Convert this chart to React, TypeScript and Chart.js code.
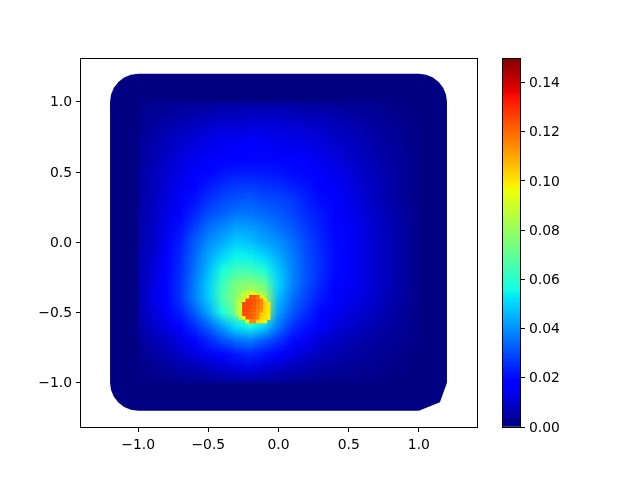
import React, { useEffect, useRef } from "react";
import { Chart, registerables } from "chart.js";

Chart.register(...registerables);

const FONT = "'DejaVu Sans'";
const xLimits = [-1.407, 1.414];
const yLimits = [-1.316, 1.312];
const xTicks = [-1, -0.5, 0, 0.5, 1];
const yTicks = [-1, -0.5, 0, 0.5, 1];
const colorTicks = [0, 0.02, 0.04, 0.06, 0.08, 0.1, 0.12, 0.14];
const colorMax = 0.15;
const rimValue = 0.3;

// Outline of the meshed region, data coordinates
const outlineX = [-1.2, -1.193, -1.173, -1.141, -1.1, -1.052, -1.0, 1.0, 1.052, 1.1, 1.141, 1.173, 1.193, 1.2, 1.2, 1.15, 1.0, -1.0, -1.052, -1.1, -1.141, -1.173, -1.193, -1.2];
const outlineY = [1.0, 1.052, 1.1, 1.141, 1.173, 1.193, 1.2, 1.2, 1.193, 1.173, 1.141, 1.1, 1.052, 1.0, -1.0, -1.14, -1.2, -1.2, -1.193, -1.173, -1.141, -1.1, -1.052, -1.0];

// Field values x 0.001; columns x = -1.0..1.0, rows y = 1.0..-1.0
const gridX = [-1, -0.9, -0.8, -0.7, -0.6, -0.5, -0.4, -0.3, -0.2, -0.1, 0, 0.1, 0.2, 0.3, 0.4, 0.5, 0.6, 0.7, 0.8, 0.9, 1];
const gridY = [1, 0.9, 0.8, 0.7, 0.6, 0.5, 0.4, 0.3, 0.2, 0.1, 0, -0.1, -0.2, -0.3, -0.4, -0.5, -0.6, -0.7, -0.8, -0.9, -1];
const gridValues = [
  [1, 2, 2, 3, 3, 3, 4, 4, 4, 4, 4, 4, 3, 3, 3, 2, 2, 2, 1, 1, 0],
  [2, 3, 4, 5, 6, 7, 8, 8, 9, 9, 9, 8, 7, 7, 6, 5, 4, 3, 2, 1, 1],
  [2, 4, 6, 8, 9, 11, 12, 12, 13, 13, 12, 12, 11, 10, 8, 7, 6, 4, 3, 2, 1],
  [3, 5, 8, 10, 12, 14, 15, 16, 17, 16, 15, 14, 13, 12, 10, 9, 7, 5, 4, 2, 1],
  [3, 6, 9, 12, 14, 16, 17, 18, 19, 19, 18, 17, 16, 14, 12, 10, 8, 6, 4, 3, 1],
  [4, 7, 10, 13, 16, 19, 21, 22, 22, 22, 21, 20, 18, 16, 14, 12, 9, 7, 5, 3, 1],
  [4, 7, 11, 15, 18, 22, 25, 27, 27, 26, 25, 23, 21, 18, 16, 13, 10, 8, 5, 3, 1],
  [4, 8, 12, 16, 21, 26, 29, 31, 32, 30, 29, 27, 23, 20, 17, 14, 11, 8, 5, 3, 1],
  [5, 8, 13, 18, 24, 30, 33, 36, 36, 34, 32, 29, 25, 22, 18, 15, 12, 9, 6, 4, 1],
  [5, 9, 14, 21, 28, 35, 39, 43, 42, 39, 36, 32, 27, 23, 19, 16, 13, 9, 7, 4, 1],
  [5, 9, 15, 23, 32, 39, 44, 49, 47, 43, 40, 35, 29, 24, 20, 16, 13, 10, 7, 4, 1],
  [6, 10, 16, 24, 34, 43, 50, 55, 54, 50, 44, 37, 30, 25, 20, 17, 13, 10, 7, 4, 1],
  [6, 11, 17, 25, 35, 46, 57, 64, 64, 58, 48, 38, 31, 25, 20, 17, 13, 10, 7, 4, 1],
  [6, 12, 18, 26, 37, 49, 63, 75, 78, 72, 50, 38, 30, 24, 19, 16, 13, 10, 7, 4, 1],
  [6, 13, 18, 26, 37, 49, 65, 78, 88, 85, 46, 35, 28, 22, 17, 14, 12, 9, 6, 4, 1],
  [6, 11, 16, 23, 32, 43, 58, 72, 84, 80, 42, 32, 25, 19, 15, 12, 10, 8, 5, 3, 1],
  [5, 9, 13, 18, 25, 33, 42, 52, 56, 50, 36, 26, 21, 16, 12, 10, 8, 6, 4, 3, 1],
  [3, 6, 9, 13, 18, 24, 30, 35, 37, 32, 26, 20, 15, 11, 9, 7, 5, 4, 3, 2, 1],
  [2, 4, 6, 9, 12, 15, 19, 22, 24, 21, 17, 13, 10, 8, 6, 5, 4, 3, 2, 1, 1],
  [1, 2, 3, 5, 6, 8, 10, 12, 13, 11, 9, 7, 6, 4, 3, 3, 2, 2, 1, 1, 0],
  [1, 1, 1, 2, 2, 3, 3, 3, 4, 3, 3, 2, 2, 2, 1, 1, 1, 1, 0, 0, 0],
];

// Fine cells around the peak, values x 0.001, 0 = no cell
const hotX = [-0.296, -0.271, -0.246, -0.221, -0.196, -0.171, -0.146, -0.121, -0.096, -0.071];
const hotY = [-0.364, -0.389, -0.414, -0.439, -0.464, -0.489, -0.514, -0.539, -0.564];
const hotValues = [
  [0, 0, 86, 89, 92, 93, 0, 0, 0, 0],
  [0, 84, 88, 92, 123, 124, 120, 99, 0, 0],
  [82, 86, 90, 125, 125, 123, 120, 116, 100, 0],
  [83, 88, 126, 126, 125, 123, 119, 116, 104, 100],
  [83, 89, 126, 126, 124, 122, 118, 115, 104, 100],
  [83, 89, 126, 125, 124, 121, 117, 114, 103, 100],
  [82, 88, 125, 125, 123, 120, 116, 105, 102, 99],
  [0, 86, 98, 124, 122, 119, 115, 104, 101, 98],
  [0, 0, 0, 95, 115, 115, 103, 101, 97, 0],
];

// Jet colormap segments: [position, level]
const jetRed = [[0, 0], [0.35, 0], [0.66, 1], [0.89, 1], [1, 0.5]];
const jetGreen = [[0, 0], [0.125, 0], [0.375, 1], [0.64, 1], [0.91, 0], [1, 0]];
const jetBlue = [[0, 0.5], [0.11, 1], [0.34, 1], [0.65, 0], [1, 0]];
const jetStops = [0, 0.11, 0.125, 0.34, 0.35, 0.375, 0.64, 0.65, 0.66, 0.89, 0.91, 1];

function channel(segments: number[][], t: number) {
  for (let i = 1; i < segments.length; i++) {
    if (t <= segments[i][0]) {
      const [a, va] = segments[i - 1];
      const [b, vb] = segments[i];
      return va + ((vb - va) * (t - a)) / (b - a);
    }
  }
  return segments[segments.length - 1][1];
}
function jet(t: number) {
  const c = Math.max(0, Math.min(1, t));
  const f = (s: number[][]) => Math.round(channel(s, c) * 255);
  return `rgb(${f(jetRed)},${f(jetGreen)},${f(jetBlue)})`;
}
const colorOf = (milli: number) => jet((milli * 0.001) / colorMax);

const fmt = (v: number, d: number) => (v < 0 ? "\u2212" : "") + Math.abs(v).toFixed(d);

const hotPoints: { x: number; y: number }[] = [];
const hotColors: string[] = [];
hotValues.forEach((row, j) =>
  row.forEach((v, i) => {
    if (v > 0) {
      hotPoints.push({ x: hotX[i], y: hotY[j] });
      hotColors.push(colorOf(v));
    }
  })
);

const fieldPlugin = {
  id: "field",
  beforeDatasetsDraw(chart: any) {
    const { ctx, scales } = chart;
    const px = (v: number) => scales.x.getPixelForValue(v);
    const py = (v: number) => scales.y.getPixelForValue(v);
    ctx.save();
    ctx.beginPath();
    outlineX.forEach((x, i) => {
      if (i === 0) ctx.moveTo(px(x), py(outlineY[i]));
      else ctx.lineTo(px(x), py(outlineY[i]));
    });
    ctx.closePath();
    ctx.fillStyle = colorOf(rimValue);
    ctx.fill();
    const off = document.createElement("canvas");
    off.width = gridX.length;
    off.height = gridY.length;
    const o = off.getContext("2d")!;
    gridValues.forEach((row, j) =>
      row.forEach((v, i) => {
        o.fillStyle = colorOf(v);
        o.fillRect(i, j, 1, 1);
      })
    );
    ctx.imageSmoothingEnabled = true;
    ctx.imageSmoothingQuality = "medium";
    const x0 = px(gridX[0]);
    const x1 = px(gridX[gridX.length - 1]);
    const y0 = py(gridY[0]);
    const y1 = py(gridY[gridY.length - 1]);
    ctx.drawImage(off, 0.5, 0.5, gridX.length - 1, gridY.length - 1, x0, y0, x1 - x0, y1 - y0);
    ctx.restore();
  },
};

const framePlugin = {
  id: "frame",
  afterDraw(chart: any) {
    const { ctx, chartArea: a } = chart;
    ctx.save();
    ctx.strokeStyle = "#000";
    ctx.lineWidth = 1;
    ctx.strokeRect(Math.round(a.left) - 0.5, Math.round(a.top) + 0.5, Math.round(a.right - a.left) + 1, Math.round(a.bottom - a.top));
    ctx.restore();
  },
};

const tickStyle = { color: "#000", font: { family: FONT, size: 13.9 }, maxRotation: 0, autoSkip: false, padding: 4 };
const gridStyle = { drawOnChartArea: false, color: "#000", tickLength: 5, lineWidth: 1 };

export default function App() {
  const mainRef = useRef<HTMLCanvasElement>(null);
  const barRef = useRef<HTMLCanvasElement>(null);

  useEffect(() => {
    const main = new Chart(mainRef.current!, {
      type: "scatter",
      data: {
        datasets: [
          {
            label: "peak",
            data: hotPoints,
            pointStyle: "rect",
            pointRadius: 2.7,
            pointBorderWidth: 0,
            pointBackgroundColor: hotColors,
            showLine: false,
          },
        ],
      },
      options: {
        responsive: false,
        animation: false,
        events: [],
        layout: { padding: { top: 58, right: 163, left: 0, bottom: 0 } },
        plugins: { legend: { display: false }, tooltip: { enabled: false } },
        scales: {
          x: {
            type: "linear",
            min: xLimits[0],
            max: xLimits[1],
            border: { display: false },
            grid: gridStyle,
            ticks: { ...tickStyle, padding: 5, callback: (v: any) => fmt(Number(v), 1) },
            afterBuildTicks: (s: any) => { s.ticks = xTicks.map((value) => ({ value })); },
            afterFit: (s: any) => { s.height = 53; },
          },
          y: {
            type: "linear",
            min: yLimits[0],
            max: yLimits[1],
            border: { display: false },
            grid: gridStyle,
            ticks: { ...tickStyle, labelOffset: 1, callback: (v: any) => fmt(Number(v), 1) },
            afterBuildTicks: (s: any) => { s.ticks = yTicks.map((value) => ({ value })); },
            afterFit: (s: any) => { s.width = 81; },
          },
        },
      },
      plugins: [fieldPlugin, framePlugin],
    } as any);

    const bar = new Chart(barRef.current!, {
      type: "bar",
      data: {
        labels: ["scale"],
        datasets: [
          {
            label: "colour scale",
            data: [[0, colorMax]],
            barPercentage: 1,
            categoryPercentage: 1,
            borderWidth: 0,
            backgroundColor: (c: any) => {
              const area = c.chart.chartArea;
              if (!area) return "#000080";
              const g = c.chart.ctx.createLinearGradient(0, area.bottom, 0, area.top);
              jetStops.forEach((t) => g.addColorStop(t, jet(t)));
              return g;
            },
          },
        ],
      },
      options: {
        responsive: false,
        animation: false,
        events: [],
        layout: { padding: { top: 58, left: 503, right: 0, bottom: 53 } },
        plugins: { legend: { display: false }, tooltip: { enabled: false } },
        scales: {
          x: { display: false },
          y: {
            position: "right",
            min: 0,
            max: colorMax,
            border: { display: false },
            grid: gridStyle,
            ticks: { ...tickStyle, labelOffset: 1, callback: (v: any) => fmt(Number(v), 2) },
            afterBuildTicks: (s: any) => { s.ticks = colorTicks.map((value) => ({ value })); },
            afterFit: (s: any) => { s.width = 120; },
          },
        },
      },
      plugins: [framePlugin],
    } as any);

    return () => {
      main.destroy();
      bar.destroy();
    };
  }, []);

  const style: React.CSSProperties = { position: "absolute", left: 0, top: 0, display: "block" };
  return (
    <div style={{ position: "absolute", left: 0, top: 0, width: 640, height: 480, background: "#fff" }}>
      <canvas ref={mainRef} width={640} height={480} style={style} />
      <canvas ref={barRef} width={640} height={480} style={style} />
    </div>
  );
}
